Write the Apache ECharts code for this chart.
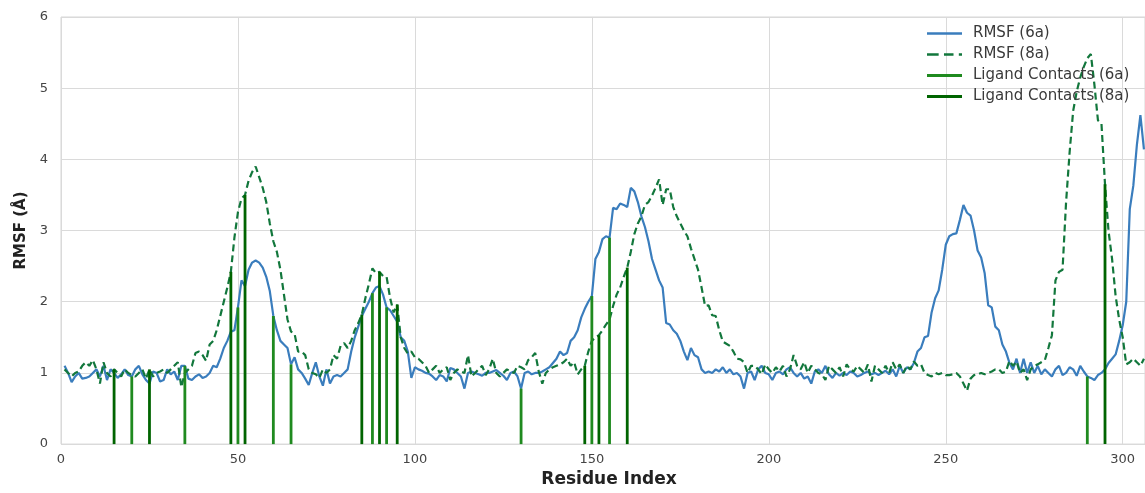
<!DOCTYPE html>
<html>
<head>
<meta charset="utf-8">
<script src="https://cdn.jsdelivr.net/npm/echarts@6/dist/echarts.min.js"></script>
<style>
html,body{margin:0;padding:0;background:#fff;}
#chart{width:1145px;height:493px;}
</style>
</head>
<body>
<div id="chart"></div>
<script>
// RMSF per residue (residues 1..306)
const rmsf6a = [
 1.1,1.0,0.87,0.95,1.0,0.92,0.93,0.95,1.0,1.05,
 0.95,1.1,0.9,1.05,1.0,0.93,0.98,1.05,0.97,0.95,
 1.05,1.1,0.98,0.9,0.85,1.02,1.0,0.88,0.9,1.05,
 0.98,1.02,0.9,1.1,1.1,0.92,0.9,0.95,0.98,0.93,
 0.95,1.0,1.1,1.08,1.2,1.35,1.45,1.58,1.6,1.92,
 2.3,2.22,2.45,2.55,2.58,2.55,2.48,2.35,2.15,1.8,
 1.6,1.45,1.4,1.35,1.12,1.22,1.05,1.0,0.92,0.83,
 1.0,1.15,0.95,0.82,1.05,0.85,0.95,0.97,0.95,1.0,
 1.05,1.3,1.5,1.65,1.8,1.9,2.0,2.12,2.2,2.22,
 2.1,1.92,1.88,1.8,1.72,1.5,1.45,1.3,0.93,1.08,
 1.05,1.03,1.0,0.99,0.95,0.9,0.97,0.95,0.88,1.07,
 1.05,1.0,0.95,0.78,1.0,1.02,1.0,0.98,0.96,1.0,
 1.0,1.02,1.04,1.0,0.96,0.9,1.0,1.02,0.95,0.78,
 1.0,1.02,0.98,1.0,1.0,1.02,1.05,1.08,1.14,1.2,
 1.3,1.25,1.28,1.45,1.5,1.6,1.78,1.9,2.0,2.08,
 2.6,2.7,2.88,2.92,2.9,3.32,3.3,3.38,3.36,3.33,
 3.6,3.55,3.4,3.2,3.05,2.85,2.6,2.45,2.3,2.2,
 1.7,1.68,1.6,1.55,1.45,1.3,1.18,1.35,1.25,1.22,
 1.05,1.0,1.02,1.0,1.05,1.02,1.08,1.0,1.05,0.98,
 1.0,0.95,0.78,1.0,1.02,0.9,1.05,1.1,1.0,0.98,
 0.9,1.0,1.02,0.98,1.05,1.08,1.0,0.95,1.0,0.92,
 0.95,0.85,1.02,1.05,1.0,1.1,0.98,0.93,1.0,0.96,
 1.0,0.97,1.02,1.0,0.95,0.97,1.0,1.02,0.98,1.0,
 0.97,1.0,1.03,0.98,1.05,0.95,1.1,1.0,1.08,1.05,
 1.14,1.3,1.35,1.5,1.52,1.85,2.05,2.16,2.45,2.8,
 2.92,2.95,2.96,3.15,3.36,3.25,3.21,3.0,2.72,2.62,
 2.4,1.95,1.92,1.65,1.6,1.4,1.3,1.14,1.05,1.2,
 1.0,1.2,1.0,1.15,1.0,1.1,0.98,1.05,1.0,0.95,
 1.05,1.1,0.97,1.0,1.08,1.05,0.96,1.1,1.02,0.95,
 0.93,0.9,0.97,1.0,1.05,1.14,1.2,1.26,1.45,1.67,
 2.0,3.3,3.63,4.2,4.62,4.14
];
const rmsf8a = [
 1.05,1.0,0.95,1.0,1.02,1.1,1.15,1.1,1.18,1.05,
 0.85,1.15,1.0,0.95,1.05,1.0,0.95,1.05,1.0,0.97,
 0.95,1.0,1.05,0.92,1.05,0.95,1.0,1.02,1.05,1.0,
 1.05,1.1,1.15,0.8,1.0,1.05,1.1,1.28,1.3,1.25,
 1.17,1.4,1.45,1.6,1.8,2.0,2.2,2.42,2.9,3.26,
 3.45,3.5,3.7,3.82,3.9,3.75,3.6,3.4,3.1,2.85,
 2.7,2.45,2.1,1.75,1.58,1.55,1.3,1.3,1.25,1.05,
 1.0,0.98,0.93,1.05,1.0,1.05,1.25,1.2,1.38,1.42,
 1.35,1.45,1.6,1.7,1.82,2.05,2.25,2.47,2.4,2.42,
 2.36,2.35,2.05,1.85,1.96,1.5,1.35,1.27,1.3,1.22,
 1.2,1.15,1.1,1.0,1.05,1.1,1.0,1.05,1.08,0.9,
 1.0,1.05,1.02,1.0,1.25,0.95,1.0,1.05,1.1,0.97,
 1.05,1.2,1.0,0.95,1.0,1.05,1.02,1.0,1.1,1.08,
 1.05,1.18,1.22,1.28,1.02,0.85,1.0,1.05,1.08,1.1,
 1.12,1.15,1.2,1.1,1.15,0.98,1.05,1.1,1.3,1.45,
 1.5,1.53,1.6,1.68,1.75,1.94,2.1,2.2,2.35,2.48,
 2.7,2.95,3.1,3.2,3.36,3.4,3.49,3.6,3.72,3.36,
 3.58,3.58,3.33,3.2,3.1,3.0,2.92,2.75,2.6,2.45,
 2.2,1.94,1.95,1.81,1.8,1.6,1.44,1.41,1.38,1.3,
 1.2,1.19,1.15,1.0,1.1,1.1,1.05,0.98,1.12,1.05,
 1.0,1.08,1.02,1.1,0.95,1.05,1.25,1.1,1.05,1.15,
 1.0,1.1,1.05,1.0,0.98,0.9,1.1,1.05,1.0,1.08,
 0.95,1.12,1.05,1.02,1.1,1.05,1.0,1.12,0.88,1.1,
 1.05,1.0,1.1,1.0,1.15,1.05,1.12,1.0,1.1,1.05,
 1.16,1.1,1.12,1.0,0.97,0.95,1.0,0.98,1.0,0.97,
 0.97,0.98,1.0,0.95,0.85,0.75,0.92,0.97,0.98,1.0,
 0.98,1.0,1.02,1.05,1.05,1.0,1.02,1.17,1.1,1.16,
 1.0,1.05,0.9,1.05,1.1,1.12,1.15,1.18,1.35,1.53,
 2.3,2.42,2.45,3.4,4.1,4.68,4.95,5.15,5.3,5.42,
 5.48,5.05,4.55,4.5,3.65,2.99,2.6,2.08,1.75,1.5,
 1.12,1.15,1.2,1.15,1.1,1.2
];
// Ligand contact residues
const contacts6a = [20,35,50,60,65,88,92,130,150,155,290];
const contacts8a = [15,25,48,52,85,90,95,148,152,160,295];
// Axis ticks
const xTicks = [0,50,100,150,200,250,300];
const yTicks = [0,1,2,3,4,5,6];

const firstResidue = 1;
const line6 = rmsf6a.map((v,i)=>[firstResidue+i, v]);
const line8 = rmsf8a.map((v,i)=>[firstResidue+i, v]);
const c6 = contacts6a.map(r=>[r, rmsf6a[r-firstResidue]]);
const c8 = contacts8a.map(r=>[r, rmsf8a[r-firstResidue]]);

const FONT = 'DejaVu Sans';
const ICON_SOLID = 'path://M0,0 L33,0 L33,2.2 L0,2.2 Z';
const ICON_DASH = 'path://M0,0 L11,0 L11,2.2 L0,2.2 Z M16,0 L25,0 L25,2.2 L16,2.2 Z M30,0 L33,0 L33,2.2 L30,2.2 Z';
const ICON_THICK = 'path://M0,0 L33,0 L33,2.9 L0,2.9 Z';
function stickRender(color){
  return function(params, api){
    const x = api.value(0), h = api.value(1);
    const p0 = api.coord([x,0]), p1 = api.coord([x,h]);
    return {type:'line', shape:{x1:p0[0],y1:p0[1],x2:p1[0],y2:p1[1]},
      style:{stroke:color, lineWidth:2.8}};
  };
}
const chart = echarts.init(document.getElementById('chart'), null, {renderer:'canvas'});
chart.setOption({
  animation:false,
  backgroundColor:'#fff',
  grid:{left:61, right:0, top:17, bottom:38, show:true, borderColor:'#d6d6d6', borderWidth:1},
  xAxis:{type:'value', min:0, max:306.3, interval:50,
    name:'Residue Index', nameLocation:'middle', nameGap:24,
    nameTextStyle:{fontFamily:FONT, fontWeight:'bold', fontSize:17, color:'#222', padding:[0,0,0,12]},
    axisLine:{show:false}, axisTick:{show:false},
    axisLabel:{fontFamily:FONT, fontSize:13, color:'#444', margin:9, showMaxLabel:false,
      formatter:v=> xTicks.includes(v)? String(v):''},
    splitLine:{show:true, lineStyle:{color:'#dadada', width:1}}},
  yAxis:{type:'value', min:0, max:6, interval:1,
    name:'RMSF (Å)', nameLocation:'middle', nameGap:31, nameRotate:90,
    nameTextStyle:{fontFamily:FONT, fontWeight:'bold', fontSize:15, color:'#222'},
    axisLine:{show:false}, axisTick:{show:false},
    axisLabel:{fontFamily:FONT, fontSize:13, color:'#444', margin:13,
      formatter:v=> yTicks.includes(v)? String(v):''},
    splitLine:{show:true, lineStyle:{color:'#dadada', width:1}}},
  legend:{left:927, top:26, orient:'vertical', padding:0, itemWidth:35, itemHeight:14, itemGap:6,
    textStyle:{fontFamily:FONT, fontSize:15, color:'#3a3a3a', padding:[0,0,0,6]},
    data:[
      {name:'RMSF (6a)', icon:ICON_SOLID, itemStyle:{color:'#3a7dbd'}},
      {name:'RMSF (8a)', icon:ICON_DASH, itemStyle:{color:'#12773c'}},
      {name:'Ligand Contacts (6a)', icon:ICON_THICK, itemStyle:{color:'#1f8a1f'}},
      {name:'Ligand Contacts (8a)', icon:ICON_THICK, itemStyle:{color:'#006400'}}
    ]},
  series:[
    {name:'RMSF (6a)', type:'line', data:line6, symbol:'none', smooth:false,
      lineStyle:{color:'#3a7dbd', width:2.2}, itemStyle:{color:'#3a7dbd'}, z:2},
    {name:'RMSF (8a)', type:'line', data:line8, symbol:'none', smooth:false,
      lineStyle:{color:'#12773c', width:2.2, type:[7,4]}, itemStyle:{color:'#12773c'}, z:3},
    {name:'Ligand Contacts (6a)', type:'custom', data:c6, renderItem:stickRender('#1f8a1f'),
      itemStyle:{color:'#1f8a1f'}, z:4},
    {name:'Ligand Contacts (8a)', type:'custom', data:c8, renderItem:stickRender('#006400'),
      itemStyle:{color:'#006400'}, z:5}
  ]
});
</script>
</body>
</html>
